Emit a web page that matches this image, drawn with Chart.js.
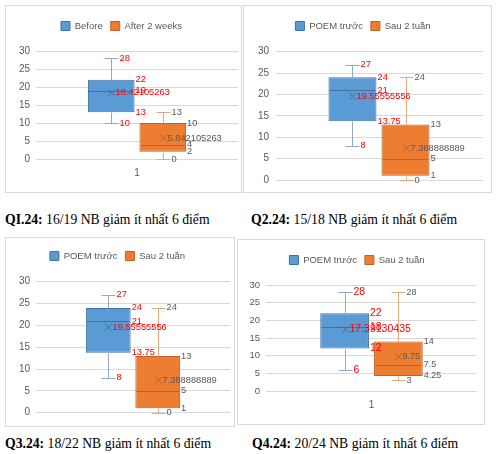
<!DOCTYPE html>
<html>
<head>
<meta charset="utf-8">
<script src="https://cdn.jsdelivr.net/npm/chart.js@4.4.1/dist/chart.umd.min.js"></script>
<style>
body { margin: 0; width: 500px; height: 454px; background: #fff; position: relative; overflow: hidden; }
.frame { position: absolute; border: 1px solid #d9d9d9; box-sizing: border-box; background: #fff; }
.wrap { position: absolute; }
.cap { position: absolute; font-family: "Liberation Serif", serif; font-size: 13.7px; line-height: 16px; white-space: nowrap; color: #000; }
</style>
</head>
<body>
<script>
// chart data
const categories = ['1'];
const yTicks = [0, 5, 10, 15, 20, 25, 30];
// each box: [min, Q1, median, Q3, max, mean]
const q1Before = [10, 13, 19, 22, 28, 18.42105263];
const q1After = [0, 2, 4, 10, 13, 5.842105263];
const q2Before = [8, 13.75, 21, 24, 27, 19.55555556];
const q2After = [0, 1, 5, 13, 24, 7.388888889];
const q3Before = [8, 13.75, 21, 24, 27, 19.55555556];
const q3After = [0, 1, 5, 13, 24, 7.388888889];
const q4Before = [6, 12, 18, 22, 28, 17.39130435];
const q4After = [3, 4.25, 7.5, 14, 28, 9.75];
const seriesEn = ['Before', 'After 2 weeks'];
const seriesVi = ['POEM trước', 'Sau 2 tuần'];
const captionCodes = ['QI.24:', 'Q2.24:', 'Q3.24:', 'Q4.24:'];
const captionTexts = [' 16/19 NB giảm ít nhất 6 điểm', ' 15/18 NB giảm ít nhất 6 điểm',
                      ' 18/22 NB giảm ít nhất 6 điểm', ' 20/24 NB giảm ít nhất 6 điểm'];

// where each panel sits on the page
const frames = [
    {x: 5, y: 5, w: 237, h: 188, left: 31, right: 4, top: 46, xh: 34, legendY: 21, showX: true, tick: 10, lab: [9.3, 9.3]},
    {x: 243, y: 5, w: 249, h: 188, left: 32, right: 9, top: 46.7, xh: 13, legendY: 21, showX: false, tick: 10, lab: [9.3, 9.3]},
    {x: 5, y: 237, w: 230, h: 190, left: 31, right: 5, top: 44.7, xh: 14.3, legendY: 19, showX: false, tick: 10, lab: [9.3, 9.3]},
    {x: 237, y: 239, w: 248, h: 186, left: 29, right: 8, top: 46, xh: 34, legendY: 21, showX: true, tick: 9.5, lab: [10.5, 9]}
];
const captionPos = [{x: 5, y: 212}, {x: 251, y: 212}, {x: 5, y: 436}, {x: 252, y: 436}];

const panelData = [
    [seriesEn, q1Before, q1After],
    [seriesVi, q2Before, q2After],
    [seriesVi, q3Before, q3After],
    [seriesVi, q4Before, q4After]
];

const FONT = 'Liberation Sans';

// whiskers, median, mean marker and the value labels
const boxPlugin = {
    id: 'boxPlugin',
    afterDatasetsDraw(chart) {
        const ctx = chart.ctx;
        const y = chart.scales.y;
        const py = v => Math.round(y.getPixelForValue(v)) + 0.5;
        const metas = chart.data.datasets.map((ds, i) => chart.getDatasetMeta(i).data[0]);
        ctx.save();
        ctx.lineWidth = 1;
        chart.data.datasets.forEach((ds, i) => {
            const bar = metas[i];
            const [mn, q1, md, q3, mx, mean] = ds.stats;
            const c = Math.round(bar.x) + 0.5;
            const l = bar.x - bar.width / 2, r = bar.x + bar.width / 2;
            ctx.strokeStyle = ds.whisker;
            ctx.beginPath();
            ctx.moveTo(c, py(q3)); ctx.lineTo(c, py(mx));
            ctx.moveTo(c - 7, py(mx)); ctx.lineTo(c + 7, py(mx));
            ctx.moveTo(c, py(q1)); ctx.lineTo(c, py(mn));
            ctx.moveTo(c - 7, py(mn)); ctx.lineTo(c + 7, py(mn));
            ctx.stroke();
            ctx.strokeStyle = ds.borderColor;
            ctx.beginPath();
            ctx.moveTo(l + 1, py(md)); ctx.lineTo(r - 1, py(md));
            const my = y.getPixelForValue(mean);
            ctx.moveTo(c - 3.5, my - 3.5); ctx.lineTo(c + 3.5, my + 3.5);
            ctx.moveTo(c - 3.5, my + 3.5); ctx.lineTo(c + 3.5, my - 3.5);
            ctx.stroke();
        });
        ctx.textAlign = 'left';
        ctx.textBaseline = 'middle';
        chart.data.datasets.forEach((ds, i) => {
            const bar = metas[i];
            const [mn, q1, md, q3, mx, mean] = ds.stats;
            const c = Math.round(bar.x) + 0.5;
            const r = bar.x + bar.width / 2;
            ctx.fillStyle = ds.labelColor;
            ctx.font = ds.labelSize + 'px "' + FONT + '"';
            ctx.fillText(String(mx), c + 8, y.getPixelForValue(mx));
            ctx.fillText(String(q3), r + 1, y.getPixelForValue(q3));
            ctx.fillText(String(md), r + 1, y.getPixelForValue(md));
            ctx.fillText(String(q1), r + 1, y.getPixelForValue(q1));
            ctx.fillText(String(mn), c + 8, y.getPixelForValue(mn));
            ctx.fillText(String(mean), c + 4, y.getPixelForValue(mean));
        });
        ctx.restore();
    }
};

frames.forEach((f, k) => {
    const frame = document.createElement('div');
    frame.className = 'frame';
    frame.style.cssText = `left:${f.x}px;top:${f.y}px;width:${f.w}px;height:${f.h}px`;
    document.body.appendChild(frame);

    const wrap = document.createElement('div');
    wrap.className = 'wrap';
    wrap.style.cssText = `left:${f.x}px;top:${f.y}px;width:${f.w}px;height:${f.h}px`;
    const canvas = document.createElement('canvas');
    canvas.width = f.w;
    canvas.height = f.h;
    wrap.appendChild(canvas);
    document.body.appendChild(wrap);

    const cap = document.createElement('div');
    cap.className = 'cap';
    cap.style.left = captionPos[k].x + 'px';
    cap.style.top = captionPos[k].y + 'px';
    cap.innerHTML = '<b>' + captionCodes[k] + '</b>' + captionTexts[k];
    document.body.appendChild(cap);

    const [names, before, after] = panelData[k];
    const legendFont = 9.5, legendPad = 8;
    const padTop = f.legendY - legendPad - legendFont / 2;
    const gap = f.top - padTop - (legendFont + legendPad + 10);

    new Chart(canvas, {
        type: 'bar',
        data: {
            labels: categories,
            datasets: [{
                label: names[0],
                data: [[before[1], before[3]]],
                stats: before,
                backgroundColor: '#5B9BD5',
                borderColor: '#41719C',
                borderWidth: 1,
                borderSkipped: false,
                whisker: '#8FAACC',
                labelColor: '#FF0000',
                labelSize: f.lab[0]
            }, {
                label: names[1],
                data: [[after[1], after[3]]],
                stats: after,
                backgroundColor: '#ED7D31',
                borderColor: '#B9612A',
                borderWidth: 1,
                borderSkipped: false,
                whisker: '#EBA77C',
                labelColor: '#595959',
                labelSize: f.lab[1]
            }]
        },
        options: {
            responsive: false,
            animation: false,
            categoryPercentage: 0.51,
            barPercentage: 0.905,
            layout: {padding: {top: padTop, left: 0, right: f.right, bottom: 0}},
            plugins: {
                tooltip: {enabled: false},
                legend: {
                    position: 'top',
                    labels: {boxWidth: 9, boxHeight: 9, padding: legendPad, color: '#595959',
                             font: {family: FONT, size: legendFont}}
                },
                title: {display: true, text: '', weight: 500, padding: 0,
                        font: {size: gap, lineHeight: 1}}
            },
            scales: {
                x: {
                    grid: {display: false, drawTicks: false},
                    border: {display: false},
                    ticks: {display: f.showX, color: '#595959', padding: 8, font: {family: FONT, size: 10}},
                    afterFit: s => { s.height = f.xh; }
                },
                y: {
                    min: 0,
                    max: 30,
                    afterBuildTicks: s => { s.ticks = yTicks.map(v => ({value: v})); },
                    grid: {color: '#D9D9D9', drawTicks: false},
                    border: {display: false},
                    ticks: {color: '#595959', padding: 6, font: {family: FONT, size: f.tick}},
                    afterFit: s => { s.width = f.left; }
                }
            }
        },
        plugins: [boxPlugin]
    });
});
</script>
</body>
</html>
